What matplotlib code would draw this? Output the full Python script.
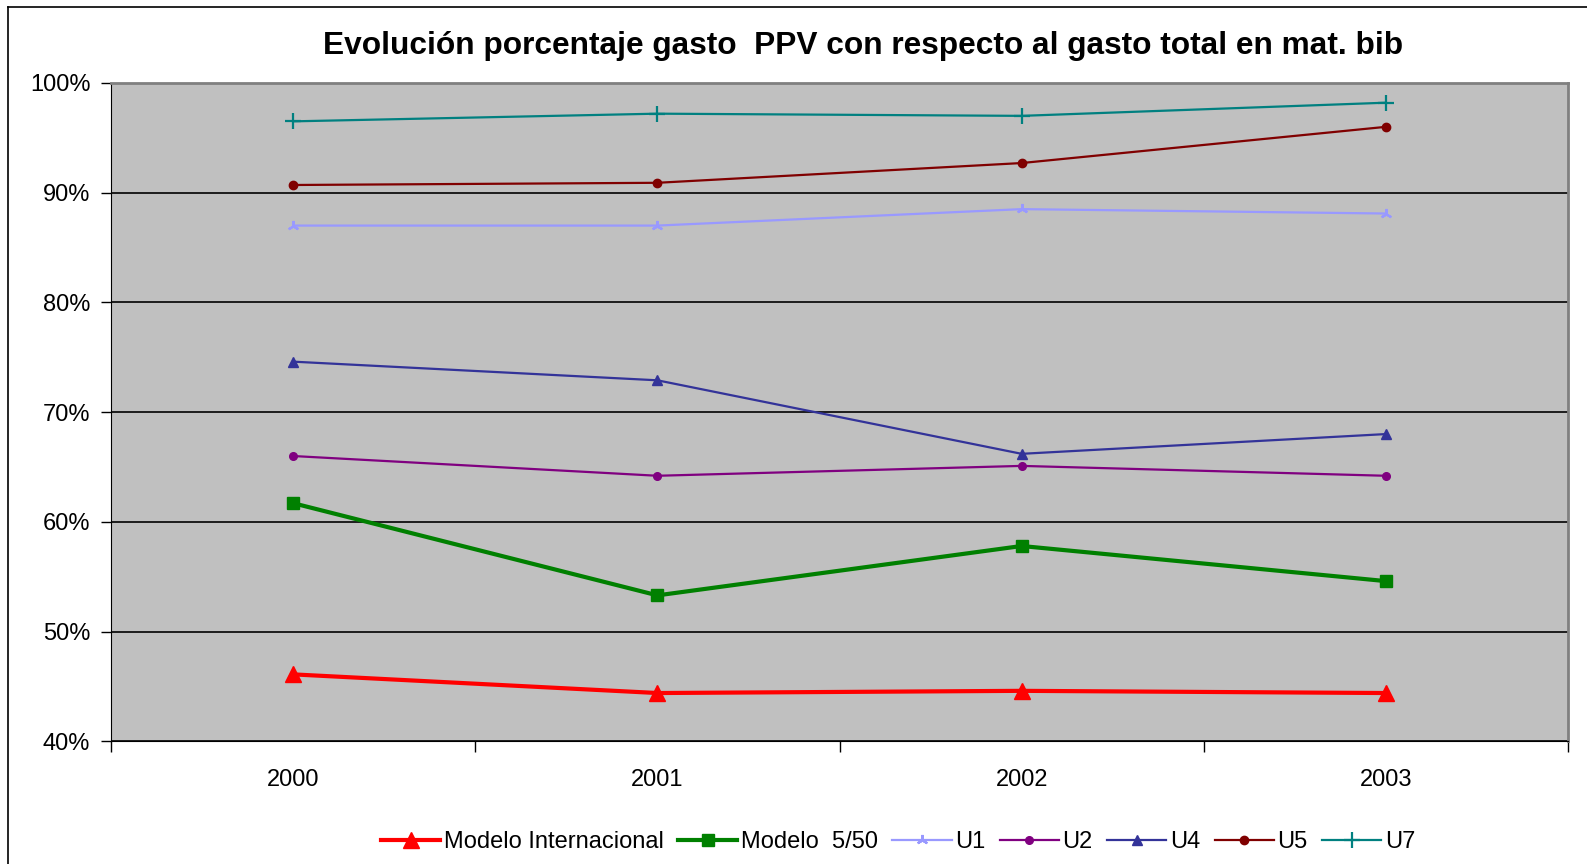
import numpy as np
import matplotlib.pyplot as plt
from matplotlib.lines import Line2D
from matplotlib.ticker import FixedLocator, PercentFormatter

plt.rcParams["font.family"] = ["Liberation Sans", "DejaVu Sans"]

# ── data ────────────────────────────────────────────────────────
years = ["2000", "2001", "2002", "2003"]
modelo_int = [46.1, 44.4, 44.6, 44.4]
modelo_550 = [61.7, 53.3, 57.8, 54.6]
u1 = [87.0, 87.0, 88.5, 88.1]
u2 = [66.0, 64.2, 65.1, 64.2]
u4 = [74.6, 72.9, 66.2, 68.0]
u5 = [90.7, 90.9, 92.7, 96.0]
u7 = [96.5, 97.2, 97.0, 98.2]

series = [
    ("Modelo Internacional", modelo_int, "#FF0000", "^",       12,  3.0),
    ("Modelo  5/50",         modelo_550, "#008000", "s",       8,   3.0),
    ("U1",                   u1,         "#9999FF", (3, 2, 0), 8,   1.6),
    ("U2",                   u2,         "#800080", "o",       5.5, 1.6),
    ("U4",                   u4,         "#333399", "^",       6.5, 1.6),
    ("U5",                   u5,         "#800000", "o",       6,   1.6),
    ("U7",                   u7,         "#008080", "+",       12,  1.6),
]

fig = plt.figure(figsize=(15.87, 8.64), dpi=100)
ax = fig.add_axes([0.070, 0.142, 0.918, 0.762])
ax.set_facecolor("#C0C0C0")

x = np.arange(len(years))
handles = []
for label, vals, color, marker, ms, lw in series:
    mew = 1.6 if marker in ((3, 2, 0), "+") else 1
    ax.plot(x, vals, color=color, lw=lw, marker=marker, ms=ms,
            mec=color, mfc=color, mew=mew, zorder=3)
    handles.append(Line2D([], [], color=color, lw=lw, marker=marker,
                          ms=ms, mec=color, mfc=color, mew=mew))

# axes styling (Excel-like)
ax.set_xlim(-0.5, 3.5)
ax.set_ylim(40, 100)
ax.yaxis.set_major_locator(FixedLocator(np.arange(40, 101, 10)))
ax.yaxis.set_major_formatter(PercentFormatter(decimals=0))
ax.grid(axis="y", color="black", lw=1.2, zorder=1)
ax.set_axisbelow(True)

ax.set_xticks(x)
ax.set_xticklabels(years)
ax.set_xticks(np.arange(-0.5, 3.6, 1), minor=True)
ax.tick_params(axis="x", which="major", length=0, pad=20, labelsize=17)
ax.tick_params(axis="x", which="minor", length=8, width=1, color="black")
ax.tick_params(axis="y", length=7, width=1, labelsize=17, pad=8)

for side in ("top", "right"):
    ax.spines[side].set_color("#808080")
    ax.spines[side].set_linewidth(2)
ax.spines["left"].set_color("black")
ax.spines["bottom"].set_color("black")

fig.text(0.544, 0.947,
         "Evolución porcentaje gasto  PPV con respecto al gasto total en mat. bib",
         ha="center", va="center", fontsize=22.8, fontweight="bold")

fig.legend(handles, [s[0] for s in series], loc="center", ncol=7,
           bbox_to_anchor=(0.566, 0.025), frameon=False, fontsize=17,
           handlelength=2.5, handletextpad=0.15, columnspacing=0.62)

# outer chart frame
fig.add_artist(Line2D([0.005, 0.005], [0.0, 0.992], transform=fig.transFigure,
                      color="black", lw=1.2))
fig.add_artist(Line2D([0.005, 1.0], [0.992, 0.992], transform=fig.transFigure,
                      color="black", lw=1.2))

fig.savefig("out.png", dpi=100)
